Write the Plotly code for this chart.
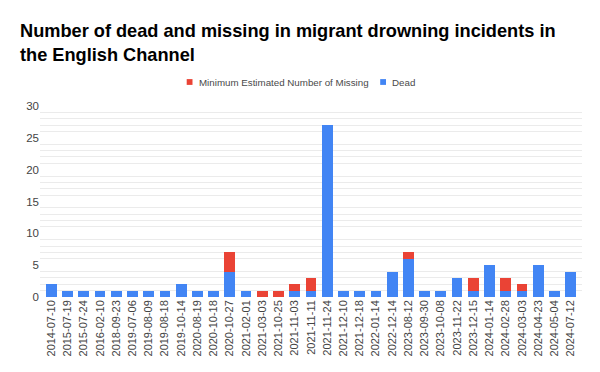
import plotly.graph_objects as go

dates = ["2014-07-10", "2015-07-19", "2015-07-24", "2016-02-10", "2018-09-23",
         "2019-07-06", "2019-08-09", "2019-08-18", "2019-10-14", "2020-08-19",
         "2020-10-18", "2020-10-27", "2021-02-01", "2021-03-03", "2021-10-25",
         "2021-11-03", "2021-11-11", "2021-11-24", "2021-12-10", "2021-12-18",
         "2022-01-14", "2022-12-14", "2023-08-12", "2023-09-30", "2023-10-08",
         "2023-11-22", "2023-12-15", "2024-01-14", "2024-02-28", "2024-03-03",
         "2024-04-23", "2024-05-04", "2024-07-12"]
dead = [2, 1, 1, 1, 1, 1, 1, 1, 2, 1, 1, 4, 1, 0, 0, 1, 1, 27, 1, 1, 1, 4, 6,
        1, 1, 3, 1, 5, 1, 1, 5, 1, 4]
missing = [0, 0, 0, 0, 0, 0, 0, 0, 0, 0, 0, 3, 0, 1, 1, 1, 2, 0, 0, 0, 0, 0, 1,
           0, 0, 0, 2, 0, 2, 1, 0, 0, 0]

BLUE = "#4285F4"
RED = "#EA4335"

W, H = 600, 372
ML, MR, MT, MB = 40, 18, 106, 75
PW, PH = W - ML - MR, H - MT - MB


def px_x(px):
    return (px - ML) / PW


def px_y(py):
    return (H - MB - py) / PH


fig = go.Figure()
fig.add_trace(go.Bar(x=dates, y=dead, name="Dead", marker_color=BLUE,
                     marker_line_width=0, showlegend=False))
fig.add_trace(go.Bar(x=dates, y=missing, name="Minimum Estimated Number of Missing",
                     marker_color=RED, marker_line_width=0, showlegend=False))

# manual legend (Google-Sheets style small squares)
legend_items = [("Minimum Estimated Number of Missing", RED, 186.7),
                ("Dead", BLUE, 380.2)]
shapes = []
annotations = []
ly = 82
for name, color, sx in legend_items:
    shapes.append(dict(type="rect", xref="paper", yref="paper",
                       x0=px_x(sx), x1=px_x(sx + 5.8), y0=px_y(ly + 2.9), y1=px_y(ly - 2.9),
                       fillcolor=color, line_width=0))
    annotations.append(dict(text=name, xref="paper", yref="paper", x=px_x(sx + 9.8),
                            y=px_y(ly), xanchor="left", yanchor="middle", showarrow=False,
                            font=dict(size=9.75, color="#4a4a4a",
                                      family="Liberation Sans, Arial, sans-serif")))

n = len(dates)
pad = (PW / 16.23 - n) / 2

fig.update_layout(
    width=W, height=H,
    barmode="stack", bargap=0.34,
    plot_bgcolor="white", paper_bgcolor="white",
    margin=dict(l=ML, r=MR, t=MT, b=MB),
    font=dict(family="Liberation Sans, Arial, sans-serif", color="#444444"),
    title=dict(text="Number of dead and missing in migrant drowning incidents in<br>the English Channel",
               x=20 / W, xanchor="left", y=1 - 37 / H, yanchor="middle",
               font=dict(size=18.2, color="#000000", family="Liberation Sans, Arial, sans-serif",
                         weight="bold")),
    showlegend=False,
    shapes=shapes,
    annotations=annotations,
)
fig.update_xaxes(type="category", tickangle=-90, tickfont=dict(size=11, color="#444444"),
                 range=[-0.5 - pad, n - 0.5 + pad],
                 showgrid=False, showline=False, ticks="")
fig.update_yaxes(range=[0, 30], dtick=5, showgrid=False, zeroline=False,
                 tickfont=dict(size=11.5, color="#444444"), ticks="",
                 minor=dict(dtick=1, showgrid=True, gridcolor="#ebebeb", gridwidth=1))

fig.write_html("out.html", config={"displayModeBar": False},
               post_script="document.body.style.margin='0';")
